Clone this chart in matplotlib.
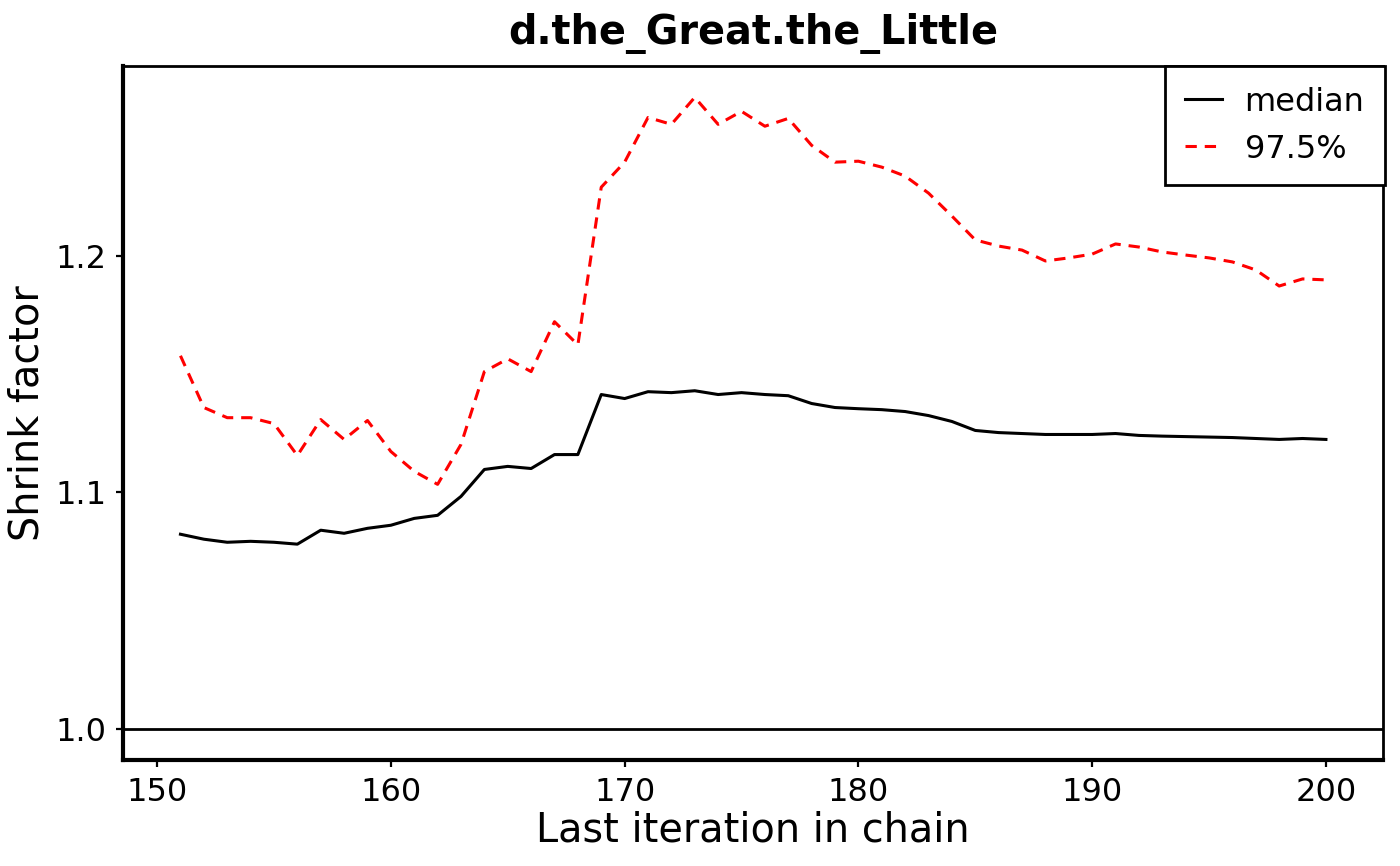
import numpy as np
import matplotlib
matplotlib.use("Agg")
import matplotlib.pyplot as plt

# last iteration in chain
iters = np.arange(151, 201)

median = [1.0823, 1.0802, 1.0789, 1.0793, 1.0789, 1.0781, 1.0840, 1.0827, 1.0848, 1.0861,
          1.0890, 1.0903, 1.0983, 1.1097, 1.1110, 1.1101, 1.1160, 1.1160, 1.1414, 1.1397,
          1.1426, 1.1422, 1.1430, 1.1414, 1.1422, 1.1414, 1.1409, 1.1376, 1.1359, 1.1354,
          1.1350, 1.1342, 1.1325, 1.1300, 1.1262, 1.1253, 1.1249, 1.1245, 1.1245, 1.1245,
          1.1249, 1.1241, 1.1238, 1.1236, 1.1234, 1.1232, 1.1228, 1.1224, 1.1228, 1.1224]

upper = [1.1578, 1.1359, 1.1316, 1.1316, 1.1291, 1.1156, 1.1308, 1.1224, 1.1304, 1.1173,
         1.1089, 1.1034, 1.1203, 1.1511, 1.1565, 1.1511, 1.1722, 1.1624, 1.2291, 1.2397,
         1.2586, 1.2557, 1.2671, 1.2557, 1.2612, 1.2549, 1.2582, 1.2468, 1.2397, 1.2401,
         1.2376, 1.2338, 1.2266, 1.2169, 1.2068, 1.2042, 1.2025, 1.1979, 1.1992, 1.2008,
         1.2051, 1.2038, 1.2017, 1.2004, 1.1992, 1.1975, 1.1941, 1.1873, 1.1903, 1.1899]

fig, ax = plt.subplots(figsize=(7, 4.33), dpi=200)
fig.subplots_adjust(left=0.088, right=0.988, top=0.924, bottom=0.122)

ax.plot(iters, median, color="black", lw=1.1, label="median")
ax.plot(iters, upper, color="red", lw=1.1, ls=(0, (3.7, 2.6)), label="97.5%")
ax.axhline(1.0, color="black", lw=1.0)

ax.set_yticks([1.0, 1.1, 1.2])
ax.set_xticks([150, 160, 170, 180, 190, 200])
ax.tick_params(labelsize=11.5, length=2.5, width=0.8)

for s in ["left", "bottom"]:
    ax.spines[s].set_linewidth(1.5)
for s in ["top", "right"]:
    ax.spines[s].set_linewidth(1.0)

ax.set_title("d.the_Great.the_Little", fontsize=14.3, fontweight="bold", pad=8)
ax.set_xlabel("Last iteration in chain", fontsize=14.3, labelpad=1)
ax.set_ylabel("Shrink factor", fontsize=14.3, labelpad=3)

leg = ax.legend(loc="upper right", fontsize=11.5, fancybox=False, framealpha=1,
                edgecolor="black", borderaxespad=0, bbox_to_anchor=(1.0016, 1.0),
                borderpad=0.65, labelspacing=0.5, handlelength=1.15, handletextpad=0.7)
leg.get_frame().set_linewidth(1.0)

plt.savefig("out.png")
